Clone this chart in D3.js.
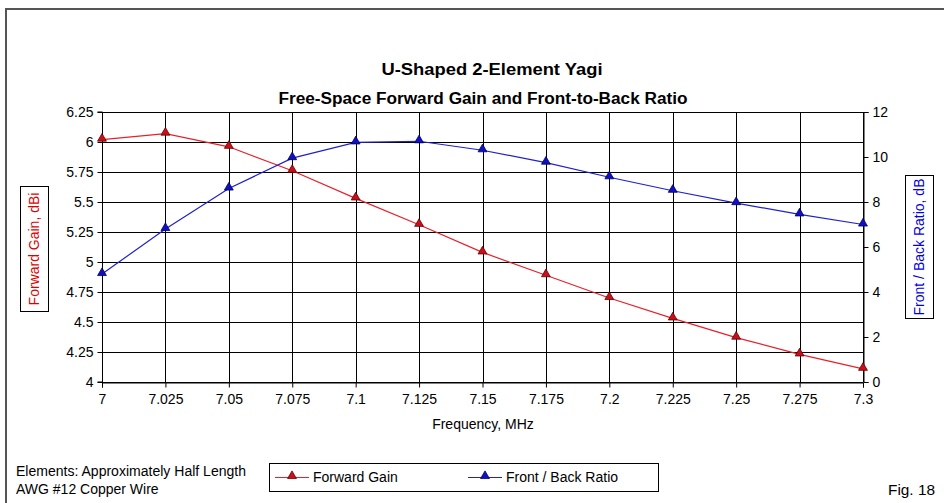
<!DOCTYPE html>
<html><head><meta charset="utf-8">
<script src="https://cdn.jsdelivr.net/npm/d3@7"></script>
<style>body{margin:0;background:#fff}svg{display:block;font-family:"Liberation Sans",Arial,sans-serif}</style>
</head><body>
<svg id="c" width="944" height="503"></svg>
<script>
const frequencies = [7, 7.025, 7.05, 7.075, 7.1, 7.125, 7.15, 7.175, 7.2, 7.225, 7.25, 7.275, 7.3];
const forwardGain = [6.02, 6.07, 5.96, 5.76, 5.53, 5.31, 5.08, 4.89, 4.70, 4.53, 4.37, 4.23, 4.11];
const frontBack = [4.8, 6.8, 8.6, 9.95, 10.65, 10.7, 10.3, 9.75, 9.1, 8.5, 7.95, 7.45, 7.0];
const leftTicks = [4, 4.25, 4.5, 4.75, 5, 5.25, 5.5, 5.75, 6, 6.25];
const rightTicks = [0, 2, 4, 6, 8, 10, 12];
const xTickLabels = ["7","7.025","7.05","7.075","7.1","7.125","7.15","7.175","7.2","7.225","7.25","7.275","7.3"];

const svg = d3.select("#c");
const L = 102, R = 863, T = 112, B = 382;
const x = d3.scaleLinear().domain([7, 7.3]).range([L, R]);
const yL = d3.scaleLinear().domain([4, 6.25]).range([B, T]);
const yR = d3.scaleLinear().domain([0, 12]).range([B, T]);

// frame
svg.append("path").attr("d", `M6,${510} L6,9 L${950},9`).attr("fill","none").attr("stroke","#555").attr("stroke-width",2);

// titles
svg.append("text").attr("x",492).attr("y",75).attr("text-anchor","middle").attr("font-size",16).attr("font-weight","bold")
  .attr("textLength",221).attr("lengthAdjust","spacingAndGlyphs").text("U-Shaped 2-Element Yagi");
svg.append("text").attr("x",483).attr("y",104).attr("text-anchor","middle").attr("font-size",16).attr("font-weight","bold")
  .attr("textLength",409).attr("lengthAdjust","spacingAndGlyphs").text("Free-Space Forward Gain and Front-to-Back Ratio");

// grid
const g = svg.append("g");
g.selectAll(".hg").data(leftTicks).enter().append("line")
  .attr("x1",L).attr("x2",R).attr("y1",d=>Math.round(yL(d))+0.5).attr("y2",d=>Math.round(yL(d))+0.5)
  .attr("stroke","#000").attr("stroke-width",1);
g.selectAll(".vg").data(frequencies).enter().append("line")
  .attr("y1",T).attr("y2",B).attr("x1",d=>Math.round(x(d))+0.5).attr("x2",d=>Math.round(x(d))+0.5)
  .attr("stroke","#000").attr("stroke-width",1);

// axes
const axL = d3.axisLeft(yL).tickValues(leftTicks).tickSize(5).tickPadding(4).tickFormat(d=>d3.format("~g")(d));
const axR = d3.axisRight(yR).tickValues(rightTicks).tickSize(5).tickPadding(4);
const axB = d3.axisBottom(x).tickValues(frequencies).tickSize(5).tickPadding(7).tickFormat((d,i)=>xTickLabels[i]);
function style(sel){ sel.selectAll("path").attr("stroke","#000"); sel.selectAll("line").attr("stroke","#000");
  sel.selectAll("text").attr("font-size",14).attr("fill","#000").attr("font-family","Liberation Sans, Arial, sans-serif"); }
svg.append("g").attr("transform",`translate(${L+0.5},0)`).call(axL).call(style).call(s=>s.select(".domain").attr("d",`M-5,${T}H0V${B}H-5`));
svg.append("g").attr("transform",`translate(${R+0.5},0)`).call(axR).call(style);
svg.append("g").attr("transform",`translate(0,${B+0.5})`).call(axB).call(style);

// lines
const lineL = d3.line().x((d,i)=>x(frequencies[i])).y(d=>yL(d));
const lineR = d3.line().x((d,i)=>x(frequencies[i])).y(d=>yR(d));
svg.append("path").attr("d",lineL(forwardGain)).attr("fill","none").attr("stroke","#e8202a").attr("stroke-width",1.2);
svg.append("path").attr("d",lineR(frontBack)).attr("fill","none").attr("stroke","#2020d0").attr("stroke-width",1.2);
const tri = d3.symbol().type(d3.symbolTriangle).size(34);
svg.selectAll(".mr").data(forwardGain).enter().append("path").attr("d",tri)
  .attr("transform",(d,i)=>`translate(${x(frequencies[i])},${yL(d)-1})`).attr("fill","#c8101a").attr("stroke","#600").attr("stroke-width",0.8);
svg.selectAll(".mb").data(frontBack).enter().append("path").attr("d",tri)
  .attr("transform",(d,i)=>`translate(${x(frequencies[i])},${yR(d)-1})`).attr("fill","#1010c0").attr("stroke","#000060").attr("stroke-width",0.8);

// axis titles
svg.append("text").attr("x",483).attr("y",429).attr("text-anchor","middle").attr("font-size",14).text("Frequency, MHz");
svg.append("rect").attr("x",20.5).attr("y",186.5).attr("width",28).attr("height",125).attr("fill","#fff").attr("stroke","#000");
svg.append("text").attr("transform","translate(39,249) rotate(-90)").attr("text-anchor","middle").attr("font-size",14).attr("fill","#e00000").text("Forward Gain, dBi");
svg.append("rect").attr("x",905.5).attr("y",175.5).attr("width",28).attr("height",143).attr("fill","#fff").attr("stroke","#000");
svg.append("text").attr("transform","translate(924,247) rotate(-90)").attr("text-anchor","middle").attr("font-size",14).attr("fill","#0000e0").text("Front / Back Ratio, dB");

// notes
svg.append("text").attr("x",16).attr("y",476).attr("font-size",14).attr("textLength",230).attr("lengthAdjust","spacingAndGlyphs").text("Elements:  Approximately Half Length");
svg.append("text").attr("x",16).attr("y",494).attr("font-size",14).text("AWG #12 Copper Wire");
svg.append("text").attr("x",888).attr("y",495).attr("font-size",14).attr("textLength",47).attr("lengthAdjust","spacingAndGlyphs").text("Fig. 18");

// legend
svg.append("rect").attr("x",269.5).attr("y",463.5).attr("width",389).attr("height",28).attr("fill","#fff").attr("stroke","#000");
const leg = [{n:"Forward Gain",c:"#e8202a",f:"#c8101a",s:"#600",x:275},{n:"Front / Back Ratio",c:"#2020d0",f:"#1010c0",s:"#000060",x:468}];
leg.forEach(d=>{
  svg.append("line").attr("x1",d.x).attr("x2",d.x+34).attr("y1",477.5).attr("y2",477.5).attr("stroke",d.c).attr("stroke-width",1.2);
  svg.append("path").attr("d",tri).attr("transform",`translate(${d.x+17},476)`).attr("fill",d.f).attr("stroke",d.s).attr("stroke-width",0.8);
  svg.append("text").attr("x",d.x+38).attr("y",482).attr("font-size",14).text(d.n);
});
</script>
</body></html>
